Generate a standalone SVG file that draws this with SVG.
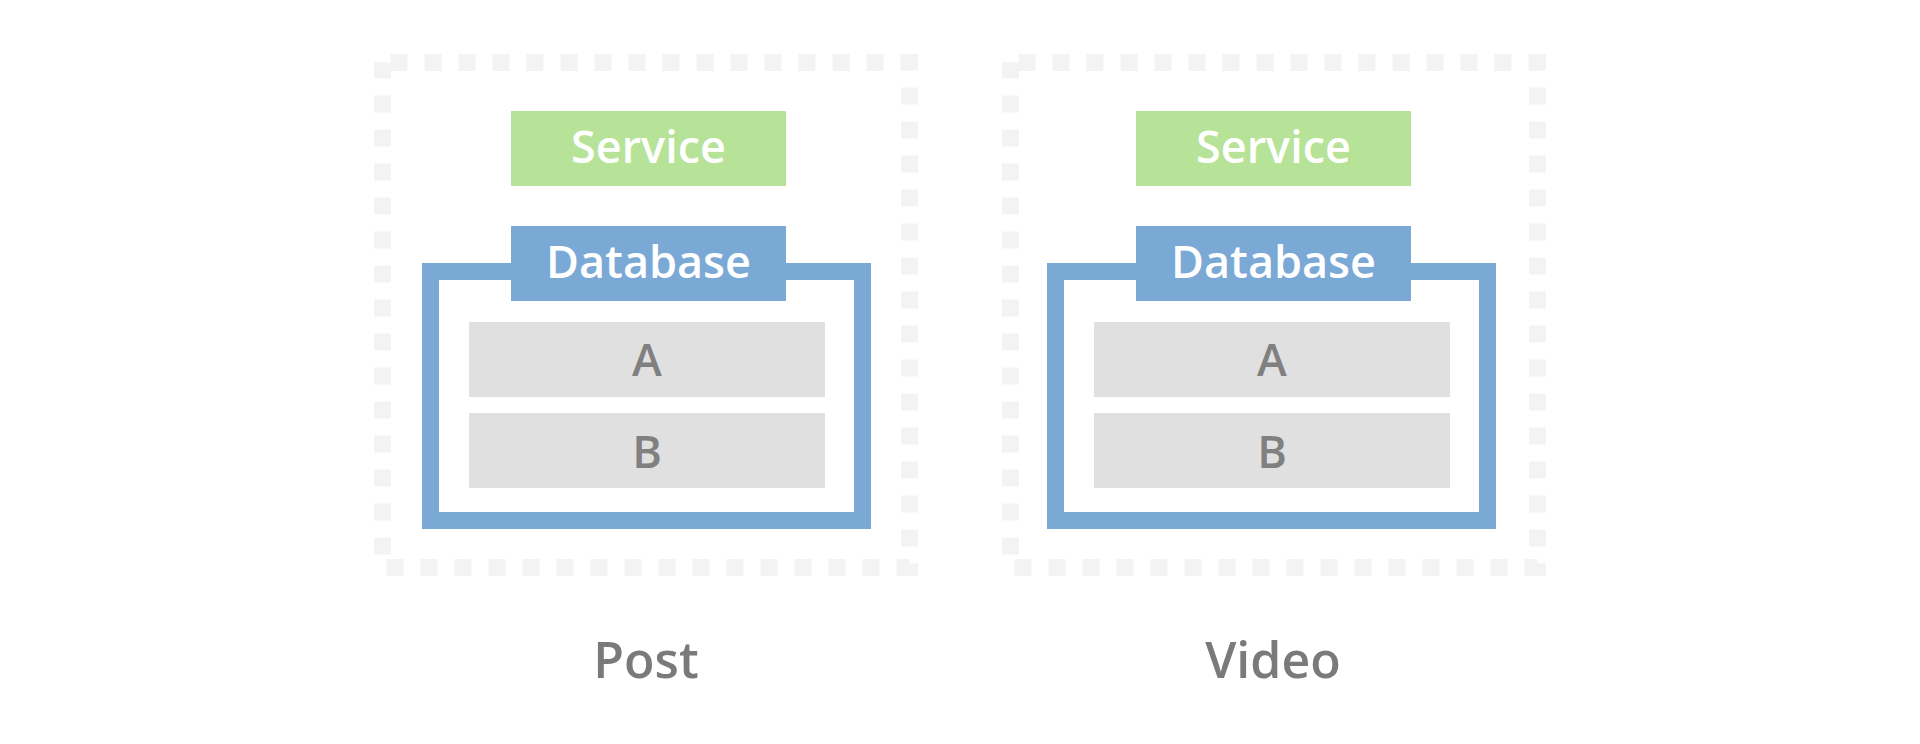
<svg xmlns="http://www.w3.org/2000/svg" width="1920" height="744" viewBox="0 0 1920 744">
<style>
.frame{fill:none;stroke:#f3f3f3;stroke-width:17;stroke-dasharray:17 17;stroke-dashoffset:-8}
.svc{fill:#b6e397}
.dbtab{fill:#7ba9d6}
.dbbox{fill:none;stroke:#7ba9d6;stroke-width:17}
.tbl{fill:#e0e0e0}
.wt{fill:#ffffff;font-family:"Open Sans","Liberation Sans",sans-serif;font-weight:600;font-size:45px;text-anchor:middle}
.gt{fill:#808080;font-family:"Open Sans","Liberation Sans",sans-serif;font-weight:600;font-size:45px;text-anchor:middle}
.lbl{fill:#7a7a7a;font-family:"Open Sans","Liberation Sans",sans-serif;font-weight:600;font-size:50px;text-anchor:middle}
</style>
<rect width="1920" height="744" fill="#ffffff"/>
<g id="post">
<rect class="frame" x="382.5" y="62.5" width="527" height="505"/>
<g id="post-service"><rect class="svc" x="511" y="111" width="275" height="75"/><text class="wt" x="648.5" y="163">Service</text></g>
<g id="post-database">
<rect class="dbbox" x="430.5" y="271.5" width="432" height="249"/>
<rect class="dbtab" x="511" y="226" width="275" height="75"/><text class="wt" x="648.5" y="277.5">Database</text>
<g id="post-a"><rect class="tbl" x="469" y="322" width="356" height="75"/><text class="gt" x="647" y="376">A</text></g>
<g id="post-b"><rect class="tbl" x="469" y="413" width="356" height="75"/><text class="gt" x="647" y="467.5">B</text></g>
</g>
<text class="lbl" x="646" y="678">Post</text>
</g>
<g id="video">
<rect class="frame" x="1010.5" y="62.5" width="527" height="505"/>
<g id="video-service"><rect class="svc" x="1136" y="111" width="275" height="75"/><text class="wt" x="1273.5" y="163">Service</text></g>
<g id="video-database">
<rect class="dbbox" x="1055.5" y="271.5" width="432" height="249"/>
<rect class="dbtab" x="1136" y="226" width="275" height="75"/><text class="wt" x="1273.5" y="277.5">Database</text>
<g id="video-a"><rect class="tbl" x="1094" y="322" width="356" height="75"/><text class="gt" x="1272" y="376">A</text></g>
<g id="video-b"><rect class="tbl" x="1094" y="413" width="356" height="75"/><text class="gt" x="1272" y="467.5">B</text></g>
</g>
<text class="lbl" x="1273" y="678">Video</text>
</g>
<g id="connectors"></g>
</svg>
